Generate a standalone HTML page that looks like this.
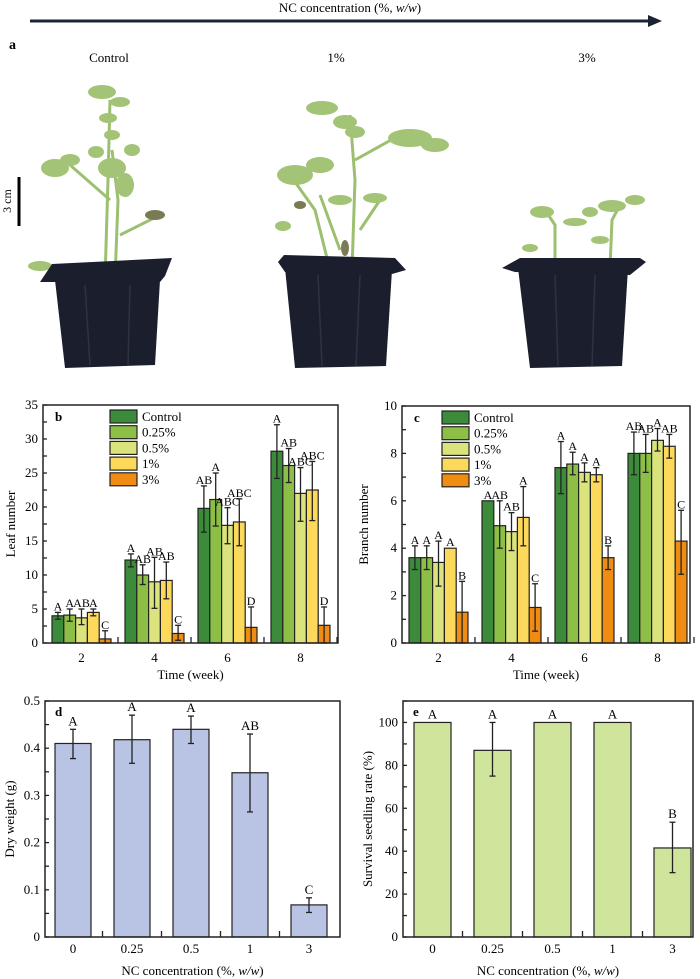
<!DOCTYPE html>
<html><head><meta charset="utf-8"><style>
html,body{margin:0;padding:0;background:#fff;}
svg{display:block;font-family:"Liberation Serif",serif;}
</style></head><body>
<svg id="s" width="700" height="979" viewBox="0 0 700 979" xmlns="http://www.w3.org/2000/svg">
<text x="350" y="12" font-size="13" text-anchor="middle">NC concentration (%, <tspan font-style="italic">w/w</tspan>)</text>
<line x1="30" y1="21" x2="650" y2="21" stroke="#1a2433" stroke-width="3"/>
<polygon points="648,15 662,21 648,27" fill="#1a2433"/>
<text x="9" y="49" font-size="14" font-weight="bold">a</text>
<text x="109" y="62" font-size="13" text-anchor="middle">Control</text>
<text x="336" y="62" font-size="13" text-anchor="middle">1%</text>
<text x="587" y="62" font-size="13" text-anchor="middle">3%</text>
<line x1="19" y1="177" x2="19" y2="226" stroke="#000" stroke-width="3"/>
<text transform="translate(11,201) rotate(-90)" font-size="12" text-anchor="middle">3 cm</text>
<g stroke="#9cbf70" stroke-width="3" fill="none">
<path d="M105,280 L108,180 L110,100"/><path d="M115,280 L118,200 L112,150"/><path d="M110,200 L70,165"/><path d="M120,235 L160,215"/>
<path d="M352,270 L355,180 L350,115"/><path d="M330,270 L315,210 L290,175"/><path d="M355,160 L400,135"/><path d="M340,250 L320,195"/><path d="M360,230 L380,200"/>
<path d="M555,268 L555,225 L545,210"/><path d="M610,268 L612,220 L620,205"/>
</g>
<g fill="#a3c476">
<ellipse cx="102" cy="92" rx="14" ry="7"/><ellipse cx="120" cy="102" rx="10" ry="5"/><ellipse cx="108" cy="118" rx="9" ry="5"/><ellipse cx="112" cy="135" rx="8" ry="5"/>
<ellipse cx="55" cy="168" rx="14" ry="9"/><ellipse cx="70" cy="160" rx="10" ry="6"/><ellipse cx="112" cy="168" rx="14" ry="10"/><ellipse cx="96" cy="152" rx="8" ry="6"/><ellipse cx="132" cy="150" rx="8" ry="6"/><ellipse cx="125" cy="185" rx="9" ry="12"/>
<ellipse cx="40" cy="266" rx="12" ry="5"/>
<ellipse cx="322" cy="108" rx="16" ry="7"/><ellipse cx="345" cy="122" rx="12" ry="7"/><ellipse cx="355" cy="132" rx="10" ry="6"/><ellipse cx="410" cy="138" rx="22" ry="9"/><ellipse cx="435" cy="145" rx="14" ry="7"/>
<ellipse cx="295" cy="175" rx="18" ry="10"/><ellipse cx="320" cy="165" rx="14" ry="8"/><ellipse cx="340" cy="200" rx="12" ry="5"/><ellipse cx="375" cy="198" rx="12" ry="5"/><ellipse cx="283" cy="226" rx="8" ry="5"/>
<ellipse cx="542" cy="212" rx="12" ry="6"/><ellipse cx="575" cy="222" rx="12" ry="4"/><ellipse cx="612" cy="206" rx="14" ry="6"/><ellipse cx="635" cy="200" rx="10" ry="5"/><ellipse cx="600" cy="240" rx="9" ry="4"/><ellipse cx="530" cy="248" rx="8" ry="4"/><ellipse cx="590" cy="212" rx="8" ry="5"/>
</g>
<g fill="#7a7b55"><ellipse cx="155" cy="215" rx="10" ry="5"/><ellipse cx="300" cy="205" rx="6" ry="4"/><ellipse cx="345" cy="248" rx="4" ry="8"/></g>
<g fill="#1b1f2d">
<polygon points="40,282 52,264 172,258 165,276 160,282"/><polygon points="55,280 160,280 155,365 65,368"/>
<polygon points="278,262 284,255 395,258 406,270 392,274 285,272"/><polygon points="285,268 392,270 386,366 295,368"/>
<polygon points="502,268 520,258 640,258 646,262 630,275 515,272"/><polygon points="518,268 628,268 622,366 530,368"/>
</g>
<g stroke="#2c3346" stroke-width="1.5"><line x1="85" y1="285" x2="90" y2="365"/><line x1="130" y1="285" x2="128" y2="365"/><line x1="318" y1="275" x2="322" y2="366"/><line x1="360" y1="275" x2="356" y2="366"/><line x1="555" y1="275" x2="558" y2="366"/><line x1="595" y1="275" x2="592" y2="366"/></g>
<g id="charts"></g>
</svg>
<script>
var G=document.getElementById("charts"),h="";
function t(x,y,s,sz,anc,extra){h+='<text x="'+x+'" y="'+y+'" font-size="'+(sz||12)+'" text-anchor="'+(anc||"middle")+'" '+(extra||"")+'>'+s+'</text>';}
function r(x,y,w,hh,f){h+='<rect x="'+x+'" y="'+y+'" width="'+w+'" height="'+hh+'" fill="'+f+'" stroke="#222" stroke-width="1.2"/>';}
function l(x1,y1,x2,y2,w){h+='<line x1="'+x1+'" y1="'+y1+'" x2="'+x2+'" y2="'+y2+'" stroke="#222" stroke-width="'+(w||1.3)+'"/>';}
function eb(x,lo,hi){l(x,lo,x,hi);l(x-3,lo,x+3,lo);l(x-3,hi,x+3,hi);}
var cols=["#3b8b3a","#8dbf46","#dbe37c","#fcd95b","#f08c12"],names=["Control","0.25%","0.5%","1%","3%"];
function grouped(X0,X1,Y0,Yt,max,step,minor,data,letters,gstart,ylab,lab,legx,ylabx){
 var sc=(Y0-Yt)/max;
 for(var i=0;i<4;i++)for(var j=0;j<5;j++){var d=data[i][j],x=gstart+73*i+11.8*j;var y=Y0-d[0]*sc;
  r(x,y,11.8,Y0-y,cols[j]);var top=y;if(d[1]!=null){eb(x+5.9,Y0-d[1]*sc,Y0-d[2]*sc);top=Y0-d[2]*sc;}
  t(x+5.9,top-2,letters[i][j],12);}
 h+='<rect x="'+X0+'" y="'+Yt+'" width="'+(X1-X0)+'" height="'+(Y0-Yt)+'" fill="none" stroke="#222" stroke-width="1.5"/>';
 for(var v=0;v<=max+1e-9;v+=minor){var yy=Y0-v*sc;l(X0,yy,X0+4,yy);}
 for(var v=0;v<=max+1e-9;v+=step){t(X0-5,Y0-v*sc+4,v,13,"end");}
 for(var i=0;i<4;i++){t(gstart+73*i+29.5,662,2*(i+1),13);var bx=gstart+73*i+66;l(bx,Y0,bx,Y0-6);}
 t((X0+X1)/2,679,"Time (week)",13);
 h+='<text transform="translate('+ylabx+','+(Y0+Yt)/2+') rotate(-90)" font-size="13" text-anchor="middle">'+ylab+'</text>';
 t(X0+12,Yt+16,lab,13,"start",'font-weight="bold"');
 for(var j=0;j<5;j++){r(legx,Yt+5+15.7*j,27,13,cols[j]);t(legx+32,Yt+16+15.7*j,names[j],13,"start");}
}
grouped(43,338,643,405,35,5,2.5,[
[[4,3.5,4.5],[4.1,3.2,5],[3.7,2.7,5],[4.5,4,5],[0.6,0,1.8]],
[[12.2,11.2,13.1],[10,8.6,11.5],[9,5.1,12.6],[9.2,6.5,11.9],[1.4,0.4,2.6]],
[[19.8,16.3,23.1],[21.1,17.2,25],[17.3,14.6,19.9],[17.8,14.3,21.2],[2.3,0,5.3]],
[[28.2,24.2,32.1],[26.1,23.6,28.6],[22,17.9,25.8],[22.5,18,26.7],[2.6,0,5.3]]],
[["A","A","AB","A","C"],["A","AB","AB","AB","C"],["AB","A","ABC","ABC","D"],["A","AB","ABC","ABC","D"]],52,"Leaf number","b",110,15);
grouped(402,690,643,406,10,2,1,[
[[3.6,3.1,4.1],[3.6,3.1,4.1],[3.4,2.4,4.3],[4,null],[1.3,0,2.6]],
[[6,null],[4.95,4,6],[4.7,3.9,5.5],[5.3,4.1,6.6],[1.5,0.5,2.5]],
[[7.4,6.3,8.5],[7.55,7.1,8.05],[7.2,6.8,7.6],[7.1,6.8,7.4],[3.6,3.1,4.1]],
[[8,7.1,8.9],[8,7.2,8.8],[8.55,8.1,9.05],[8.3,7.8,8.8],[4.3,2.9,5.6]]],
[["A","A","A","A","B"],["A","AB","AB","A","C"],["A","A","A","A","B"],["AB","AB","A","AB","C"]],409,"Branch number","c",442,368);
function single(X0,X1,Y0,Yt,max,step,minor,fmt,data,lets,xs,w,col,ylab,lab,ylabx){
 var sc=(Y0-Yt)/max;var cats=["0","0.25","0.5","1","3"];
 for(var i=0;i<5;i++){var d=data[i],y=Y0-d[0]*sc;r(xs[i],y,w,Y0-y,col);var top=y;
  if(d[1]!=null){eb(xs[i]+w/2,Y0-d[1]*sc,Y0-d[2]*sc);top=Y0-d[2]*sc;}t(xs[i]+w/2,top-4,lets[i],13);
  t(xs[i]+w/2,953,cats[i],13);if(i<4){var bx=xs[i]+w+11.5;l(bx,Y0,bx,Y0-6);}}
 h+='<rect x="'+X0+'" y="'+Yt+'" width="'+(X1-X0)+'" height="'+(Y0-Yt)+'" fill="none" stroke="#222" stroke-width="1.5"/>';
 for(var v=0;v<=max+1e-9;v+=minor){var yy=Y0-v*sc;l(X0,yy,X0+4,yy);}
 for(var v=0;v<=max+1e-9;v+=step){t(X0-5,Y0-v*sc+4,fmt(v),13,"end");}
 t((X0+X1)/2,975,'NC concentration (%, <tspan font-style="italic">w/w</tspan>)',13);
 h+='<text transform="translate('+ylabx+','+(Y0+Yt)/2+') rotate(-90)" font-size="13" text-anchor="middle">'+ylab+'</text>';
 t(X0+10,Yt+15,lab,13,"start",'font-weight="bold"');
}
single(45,340,937,701,0.5,0.1,0.05,function(v){return v<1e-9?"0":v.toFixed(1);},
[[0.41,0.378,0.44],[0.418,0.368,0.47],[0.44,0.41,0.468],[0.348,0.265,0.43],[0.068,0.052,0.083]],
["A","A","A","AB","C"],[55,114,173,232,291],36,"#b9c4e4","Dry weight (g)","d",14);
single(403,693,937,701,110,20,10,function(v){return Math.round(v);},
[[100,null],[87,75,100],[100,null],[100,null],[41.5,30,53.5]],
["A","A","A","A","B"],[414,474,534,594,654],37,"#d0e59c","Survival seedling rate (%)","e",372);
G.innerHTML=h;
</script>
</body></html>
